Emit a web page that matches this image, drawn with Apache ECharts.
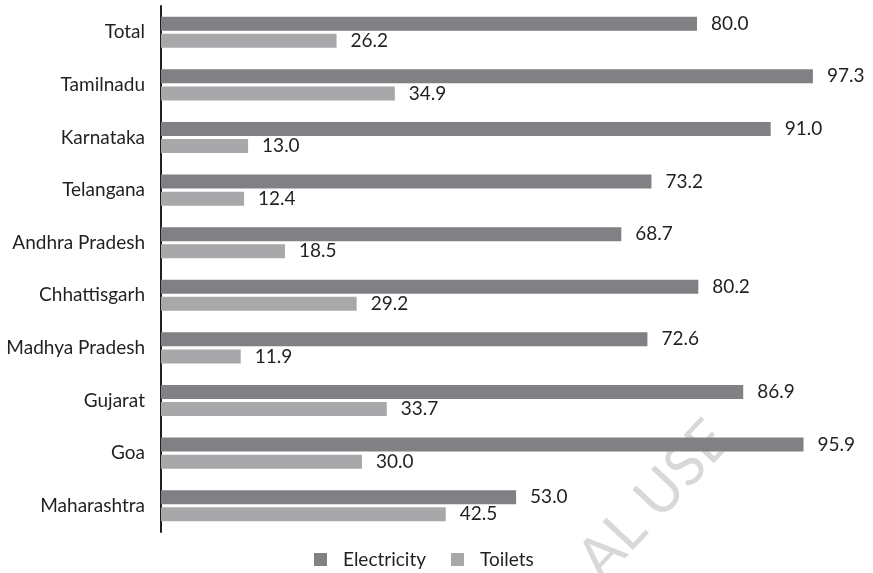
<!DOCTYPE html>
<html>
<head>
<meta charset="utf-8">
<script src="https://cdn.jsdelivr.net/npm/echarts@6/dist/echarts.min.js"></script>
<style>
  html, body { margin: 0; padding: 0; background: #fff; }
  #chart { width: 873px; height: 573px; }
</style>
</head>
<body>
<div id="chart"></div>
<script>
// States (top to bottom) and the share of schools with each facility (%)
const states = ['Total', 'Tamilnadu', 'Karnataka', 'Telangana', 'Andhra Pradesh',
  'Chhattisgarh', 'Madhya Pradesh', 'Gujarat', 'Goa', 'Maharashtra'];
const electricity = [80.0, 97.3, 91.0, 73.2, 68.7, 80.2, 72.6, 86.9, 95.9, 53.0];
const toilets = [26.2, 34.9, 13.0, 12.4, 18.5, 29.2, 11.9, 33.7, 30.0, 42.5];
const seriesNames = ['Electricity', 'Toilets'];

const FONT = 'Lato, "DejaVu Sans", sans-serif';
const TEXT = '#231f20';
const SIZE = 19;

const chart = echarts.init(document.getElementById('chart'), null, { renderer: 'canvas' });

const valueLabel = {
  show: true,
  position: 'right',
  distance: 14,
  color: TEXT,
  fontFamily: FONT,
  fontSize: SIZE,
  formatter: p => p.value.toFixed(1)
};

chart.setOption({
  animation: false,
  backgroundColor: '#ffffff',
  graphic: [{
    type: 'text',
    z: -1,
    x: 654,
    y: 500,
    rotation: 47 * Math.PI / 180,
    style: {
      text: 'AL USE',
      fill: '#d8d8d8',
      font: '58px ' + FONT,
      align: 'center',
      verticalAlign: 'middle'
    }
  }],
  legend: {
    left: 314,
    top: 550,
    padding: 0,
    itemWidth: 13,
    itemHeight: 13,
    itemGap: 25,
    icon: 'rect',
    data: seriesNames,
    textStyle: { color: TEXT, fontFamily: FONT, fontSize: SIZE, padding: [0, 0, 0, 11] }
  },
  grid: { left: 161, top: 6, width: 670, height: 526, containLabel: false },
  xAxis: {
    type: 'value',
    min: 0,
    max: 100,
    show: false
  },
  yAxis: {
    type: 'category',
    data: states,
    inverse: true,
    axisLine: { show: true, lineStyle: { color: '#231f20', width: 2 } },
    axisTick: { show: false },
    axisLabel: { color: TEXT, fontFamily: FONT, fontSize: SIZE, margin: 16 }
  },
  series: [
    {
      name: seriesNames[0],
      type: 'bar',
      data: electricity,
      barWidth: 14,
      barGap: '22%',
      itemStyle: { color: '#818185' },
      label: valueLabel
    },
    {
      name: seriesNames[1],
      type: 'bar',
      data: toilets,
      barWidth: 14,
      itemStyle: { color: '#a8a8ab' },
      label: valueLabel
    }
  ]
});
</script>
</body>
</html>
